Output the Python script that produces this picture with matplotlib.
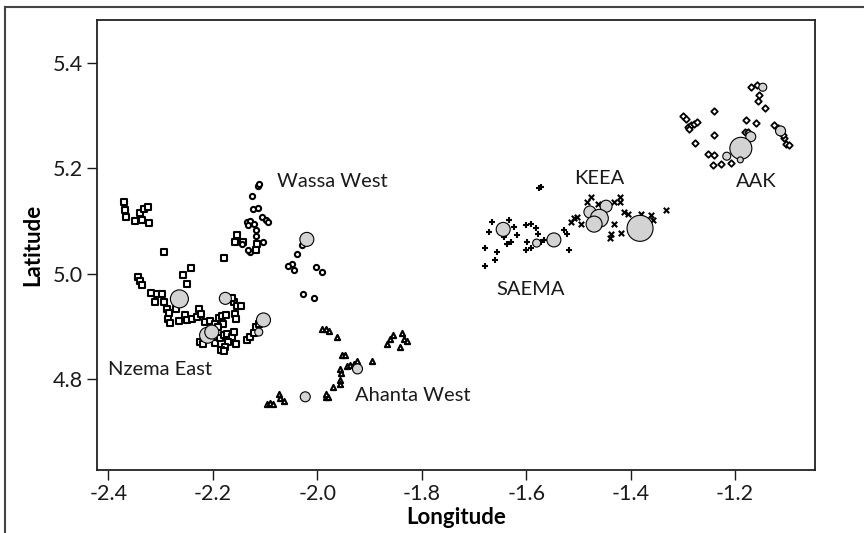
#!/usr/bin/env python3
"""Scatter of sample locations by district (longitude / latitude)."""

import matplotlib
matplotlib.use("Agg")
import matplotlib.pyplot as plt
from matplotlib.lines import Line2D

plt.rcParams["font.family"] = ["Lato", "DejaVu Sans"]

# --- data: sample locations per district ---
nzema_lon = [-2.371, -2.369, -2.366, -2.349, -2.335, -2.323, -2.339, -2.331, -2.324, -2.293,
             -2.257, -2.241, -2.179, -2.153, -2.157, -2.142, -2.115, -2.117, -2.344, -2.339,
             -2.335, -2.318, -2.307, -2.297, -2.310, -2.293, -2.249, -2.288, -2.284, -2.285,
             -2.282, -2.264, -2.253, -2.249, -2.240, -2.230, -2.226, -2.222, -2.270, -2.215,
             -2.205, -2.195, -2.189, -2.183, -2.174, -2.181, -2.191, -2.160, -2.154, -2.146,
             -2.158, -2.156, -2.163, -2.224, -2.218, -2.195, -2.186, -2.179, -2.173, -2.163,
             -2.160, -2.170, -2.176, -2.184, -2.178, -2.155, -2.135, -2.128, -2.122, -2.117,
             -2.112]
nzema_lat = [5.136, 5.121, 5.107, 5.100, 5.102, 5.096, 5.116, 5.123, 5.126, 5.041,
             4.998, 5.011, 5.029, 5.073, 5.060, 5.060, 5.056, 5.045, 4.993, 4.986,
             4.978, 4.964, 4.961, 4.961, 4.946, 4.946, 4.981, 4.932, 4.926, 4.913,
             4.907, 4.910, 4.921, 4.912, 4.913, 4.918, 4.932, 4.923, 4.932, 4.908,
             4.910, 4.905, 4.915, 4.920, 4.921, 4.905, 4.898, 4.946, 4.938, 4.938,
             4.923, 4.913, 4.953, 4.870, 4.866, 4.869, 4.877, 4.883, 4.886, 4.880,
             4.889, 4.870, 4.861, 4.855, 4.853, 4.866, 4.874, 4.880, 4.888, 4.898,
             4.905]

wassa_lon = [-2.114, -2.112, -2.125, -2.124, -2.114, -2.106, -2.098, -2.095, -2.135, -2.128,
             -2.132, -2.122, -2.117, -2.117, -2.104, -2.128, -2.132, -2.144, -2.029, -2.038,
             -2.048, -2.057, -2.044, -2.002, -1.991, -2.027, -2.007]
wassa_lat = [5.166, 5.170, 5.147, 5.122, 5.124, 5.108, 5.102, 5.098, 5.098, 5.100,
             5.092, 5.095, 5.083, 5.071, 5.060, 5.041, 5.045, 5.057, 5.054, 5.037,
             5.019, 5.014, 5.007, 5.013, 5.003, 4.962, 4.954]

ahanta_lon = [-1.991, -1.983, -1.978, -1.962, -1.866, -1.860, -1.855, -1.837, -1.833, -1.828,
              -1.841, -1.895, -1.952, -1.946, -1.943, -1.937, -1.930, -1.924, -1.957, -1.954,
              -1.956, -1.957, -1.969, -1.984, -1.979, -1.983, -2.096, -2.090, -2.084, -2.074,
              -2.072, -2.064]
ahanta_lat = [4.894, 4.894, 4.891, 4.879, 4.867, 4.875, 4.883, 4.888, 4.875, 4.872,
              4.861, 4.834, 4.845, 4.845, 4.824, 4.826, 4.829, 4.834, 4.818, 4.812,
              4.798, 4.791, 4.784, 4.766, 4.766, 4.771, 4.753, 4.755, 4.753, 4.772,
              4.763, 4.758]

saema_lon = [-1.575, -1.572, -1.665, -1.671, -1.678, -1.678, -1.659, -1.655, -1.633, -1.623,
             -1.617, -1.630, -1.636, -1.643, -1.601, -1.591, -1.582, -1.578, -1.598, -1.601,
             -1.591, -1.572, -1.566, -1.528, -1.521, -1.518]
saema_lat = [5.162, 5.165, 5.098, 5.079, 5.048, 5.014, 5.026, 5.041, 5.102, 5.089,
             5.073, 5.060, 5.057, 5.070, 5.092, 5.095, 5.086, 5.076, 5.060, 5.045,
             5.048, 5.060, 5.064, 5.083, 5.076, 5.045]

keea_lon = [-1.515, -1.508, -1.502, -1.496, -1.483, -1.476, -1.463, -1.432, -1.420, -1.420,
            -1.432, -1.438, -1.439, -1.419, -1.412, -1.406, -1.380, -1.361, -1.358, -1.333]
keea_lat = [5.098, 5.105, 5.108, 5.095, 5.136, 5.146, 5.133, 5.136, 5.146, 5.136,
            5.095, 5.076, 5.067, 5.078, 5.117, 5.114, 5.114, 5.111, 5.102, 5.121]

aak_lon = [-1.170, -1.158, -1.154, -1.156, -1.143, -1.241, -1.300, -1.294, -1.291, -1.285,
           -1.278, -1.272, -1.288, -1.179, -1.160, -1.182, -1.176, -1.240, -1.276, -1.251,
           -1.240, -1.243, -1.227, -1.207, -1.125, -1.118, -1.112, -1.106, -1.102, -1.096,
           -1.109]
aak_lat = [5.354, 5.358, 5.339, 5.328, 5.314, 5.309, 5.299, 5.293, 5.279, 5.282,
           5.285, 5.287, 5.274, 5.292, 5.286, 5.269, 5.269, 5.263, 5.249, 5.228,
           5.225, 5.206, 5.209, 5.210, 5.282, 5.276, 5.273, 5.257, 5.247, 5.245,
           5.263]

# large grey circles (count -> bubble area)
hub_lon = [-2.264, -2.176, -2.210, -2.202, -2.103, -2.112, -2.020, -1.923, -2.023, -1.644,
           -1.580, -1.547, -1.447, -1.478, -1.460, -1.470, -1.382, -1.147, -1.170, -1.189,
           -1.216, -1.190, -1.113]
hub_lat = [4.952, 4.953, 4.883, 4.889, 4.912, 4.889, 5.065, 4.819, 4.766, 5.084,
           5.058, 5.064, 5.128, 5.117, 5.105, 5.094, 5.086, 5.354, 5.260, 5.238,
           5.223, 5.216, 5.271]
hub_count = [9, 6, 8, 7, 7, 4, 7, 5, 5, 7,
             4, 7, 6, 6, 9, 8, 13, 4, 5, 11,
             4, 3, 5]

district_names = ["Wassa West", "KEEA", "AAK", "SAEMA", "Nzema East", "Ahanta West"]
label_lon = [-2.078, -1.509, -1.198, -1.657, -2.400, -1.927]
label_lat = [5.174, 5.181, 5.174, 4.969, 4.817, 4.769]

x_ticks = [-2.4, -2.2, -2.0, -1.8, -1.6, -1.4, -1.2]
y_ticks = [4.8, 5.0, 5.2, 5.4]

fig = plt.figure(figsize=(8.64, 5.33), dpi=100)
ax = fig.add_axes([0.1123, 0.1182, 0.8310, 0.8443])

small = dict(s=14, facecolors="white", edgecolors="black", linewidths=1.5, zorder=3)
ax.scatter(nzema_lon, nzema_lat, marker="s", **small)
ax.scatter(wassa_lon, wassa_lat, marker="o", **small)
ax.scatter(ahanta_lon, ahanta_lat, marker="^", **small)
ax.scatter(saema_lon, saema_lat, marker="+", s=24, color="black", linewidths=1.5, zorder=3)
ax.scatter(keea_lon, keea_lat, marker="x", s=15, color="black", linewidths=1.5, zorder=3)
ax.scatter(aak_lon, aak_lat, marker="D", s=11, facecolors="white", edgecolors="black",
           linewidths=1.3, zorder=3)

ax.scatter(hub_lon, hub_lat, s=[(1.44 * c) ** 2 for c in hub_count], facecolors="#d3d3d3",
           edgecolors="black", linewidths=0.8, zorder=4)

for name, lx, ly in zip(district_names, label_lon, label_lat):
    ax.text(lx, ly, name, fontsize=14.5, ha="left", va="center", color="#1a1a1a")

ax.set_xlim(-2.4217, -1.047)
ax.set_ylim(4.627, 5.4817)
ax.set_xticks(x_ticks)
ax.set_yticks(y_ticks)
ax.set_xticklabels([f"{t:.1f}" for t in x_ticks])
ax.set_yticklabels([f"{t:.1f}" for t in y_ticks])
ax.tick_params(axis="both", labelsize=15.5, length=7, width=1.0, direction="out",
               colors="#1a1a1a", pad=3)
for sp in ax.spines.values():
    sp.set_linewidth(1.3)
    sp.set_color("#222222")

ax.set_xlabel("Longitude", fontsize=16, fontweight="bold", labelpad=2)
ax.set_ylabel("Latitude", fontsize=16, fontweight="bold", labelpad=7)

# outer frame (cropped on right and bottom)
fx0 = 4.5 / 864
fy0 = 1 - 6.5 / 533
fig.add_artist(Line2D([fx0, fx0], [fy0, 0], transform=fig.transFigure, color="#444444", lw=1.5))
fig.add_artist(Line2D([fx0, 1], [fy0, fy0], transform=fig.transFigure, color="#444444", lw=1.5))

fig.savefig("out.png", dpi=100)
